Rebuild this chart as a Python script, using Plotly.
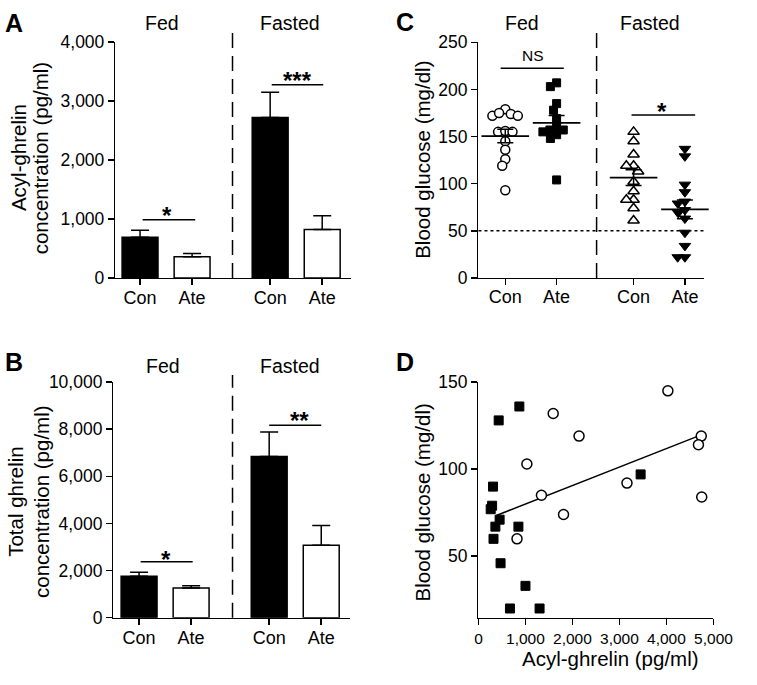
import numpy as np
import plotly.graph_objects as go

# ---------------- data ----------------
groups = ["Con", "Ate", "Con", "Ate"]
conditions = ["Fed", "Fasted"]

acyl_mean = [690, 360, 2720, 820]
acyl_sem = [120, 55, 430, 235]

total_mean = [1760, 1265, 6840, 3080]
total_sem = [165, 95, 1040, 835]

glu_fed_con = [179, 174, 172, 172, 175, 155, 156, 155, 145, 136, 126, 119, 93]
glu_fed_ate = [203, 207, 185, 178, 169, 155, 157, 157, 148, 152, 160, 104]
glu_fast_con = [155, 145, 131, 119, 119, 113, 102, 92, 83, 83, 74, 61]
glu_fast_ate = [129, 137, 99, 91, 79, 81, 69, 63, 72, 48, 34, 22, 22]

d_con_x = [4030, 1590, 2140, 4740, 4680, 1030, 3160, 1340, 4750, 1810, 820]
d_con_y = [145, 132, 119, 119, 114, 103, 92, 85, 84, 74, 60]
d_ate_x = [870, 430, 3450, 310, 290, 260, 450, 360, 850, 320, 470, 1000, 670, 1300]
d_ate_y = [136, 128, 97, 90, 79, 77, 71, 67, 67, 60, 46, 33, 20, 20]
fit_x = [380, 4740]
fit_y = [73.4, 119.7]

acyl_ticks = [0, 1000, 2000, 3000, 4000]
total_ticks = [0, 2000, 4000, 6000, 8000, 10000]
glu_ticks = [0, 50, 100, 150, 200, 250]
d_yticks = [50, 100, 150]
d_xticks = [0, 1000, 2000, 3000, 4000, 5000]

# ---------------- layout helpers ----------------
W, H = 757, 685
FONT = "Liberation Sans, Arial, Helvetica, sans-serif"
XPOS = [0, 1, 2.5, 3.5]


def px(x):
    return x / W


def py(y):
    return 1 - y / H


def beeswarm(vals, d_px, ypx_per_unit, xpx_per_unit):
    vals = np.asarray(vals, dtype=float)
    ys = vals * ypx_per_unit
    order = np.argsort(-vals, kind="stable")
    placed = []
    offs = np.zeros(len(vals))
    for i in order:
        y = ys[i]
        cands = [0.0]
        for (qx, qy) in placed:
            dy = y - qy
            if abs(dy) < d_px:
                dx = np.sqrt(d_px ** 2 - dy ** 2)
                cands += [qx + dx, qx - dx]
        cands = sorted(cands, key=lambda c: (abs(c), c))
        for c in cands:
            if all((c - qx) ** 2 + (y - qy) ** 2 >= d_px ** 2 - 1e-6 for qx, qy in placed):
                offs[i] = c
                placed.append((c, y))
                break
    return offs / xpx_per_unit


def axis(**kw):
    base = dict(showline=True, linecolor="black", linewidth=1.5, ticks="outside",
                ticklen=6, tickwidth=1.5, tickcolor="black", showgrid=False,
                zeroline=False, tickfont=dict(size=17.5, color="black", family=FONT),
                fixedrange=True)
    base.update(kw)
    return base


fig = go.Figure()

# ---------------- Panel A ----------------
bar_colors = ["black", "white", "black", "white"]
fig.add_trace(go.Bar(
    x=XPOS, y=acyl_mean, width=0.69, xaxis="x", yaxis="y",
    marker=dict(color=bar_colors, line=dict(color="black", width=1.5)),
    error_y=dict(type="data", array=acyl_sem, arrayminus=[0] * 4, symmetric=False,
                 color="black", thickness=1.5, width=9),
    showlegend=False))

# ---------------- Panel B ----------------
fig.add_trace(go.Bar(
    x=XPOS, y=total_mean, width=0.69, xaxis="x2", yaxis="y2",
    marker=dict(color=bar_colors, line=dict(color="black", width=1.5)),
    error_y=dict(type="data", array=total_sem, arrayminus=[0] * 4, symmetric=False,
                 color="black", thickness=1.5, width=9),
    showlegend=False))

# ---------------- Panel C ----------------
C_UNIT = 53.0
C_YPX = 243.0 / 250.0
c_sets = [
    (glu_fed_con, XPOS[0], dict(symbol="circle", size=9, color="white",
                                line=dict(color="black", width=1.5))),
    (glu_fed_ate, XPOS[1], dict(symbol="square", size=8, color="black",
                                line=dict(color="black", width=1))),
    (glu_fast_con, XPOS[2], dict(symbol="triangle-up", size=10, color="white",
                                 line=dict(color="black", width=1.5))),
    (glu_fast_ate, XPOS[3], dict(symbol="triangle-down", size=10, color="black",
                                 line=dict(color="black", width=1))),
]
for vals, xc, mk in c_sets:
    offs = beeswarm(vals, 7.5, C_YPX, C_UNIT)
    fig.add_trace(go.Scatter(x=xc + offs, y=vals, mode="markers", marker=mk,
                             xaxis="x3", yaxis="y3", showlegend=False, cliponaxis=False))
for vals, xc, mk in c_sets:
    v = np.asarray(vals, dtype=float)
    m = v.mean()
    sem = v.std(ddof=1) / np.sqrt(len(v))
    fig.add_trace(go.Scatter(
        x=[xc], y=[m], mode="markers", xaxis="x3", yaxis="y3", showlegend=False,
        marker=dict(symbol="line-ew", size=34, line=dict(color="black", width=1.8)),
        error_y=dict(type="data", array=[sem], color="black", thickness=1.5, width=8),
        cliponaxis=False))

# ---------------- Panel D ----------------
fig.add_trace(go.Scatter(x=fit_x, y=fit_y, mode="lines", line=dict(color="black", width=1.5),
                         xaxis="x4", yaxis="y4", showlegend=False))
fig.add_trace(go.Scatter(x=d_ate_x, y=d_ate_y, mode="markers", xaxis="x4", yaxis="y4",
                         marker=dict(symbol="square", size=9, color="black",
                                     line=dict(color="black", width=1)),
                         showlegend=False, cliponaxis=False))
fig.add_trace(go.Scatter(x=d_con_x, y=d_con_y, mode="markers", xaxis="x4", yaxis="y4",
                         marker=dict(symbol="circle", size=10, color="white",
                                     line=dict(color="black", width=1.5)),
                         showlegend=False, cliponaxis=False))

# ---------------- axes ----------------
A_UNIT = 53.75
XT = dict(size=18, color="black", family=FONT)
fig.update_layout(
    xaxis=axis(domain=[px(115), px(358)], anchor="y",
               range=[(115 - 140.5) / A_UNIT, (358 - 140.5) / A_UNIT],
               tickmode="array", tickvals=XPOS, ticktext=groups, tickfont=XT,
               ticklabelstandoff=-3),
    yaxis=axis(domain=[py(276), py(33)], anchor="x", range=[0, 4000],
               tickmode="array", tickvals=acyl_ticks,
               ticktext=[f"{t:,}" for t in acyl_ticks]),
    xaxis2=axis(domain=[px(113), px(357)], anchor="y2",
                range=[(113 - 139.5) / A_UNIT, (357 - 139.5) / A_UNIT],
                tickmode="array", tickvals=XPOS, ticktext=groups, tickfont=XT,
                ticklabelstandoff=-3),
    yaxis2=axis(domain=[py(626), py(383.3)], anchor="x2", range=[0, 10000],
                tickmode="array", tickvals=total_ticks,
                ticktext=[f"{t:,}" for t in total_ticks]),
    xaxis3=axis(domain=[px(490), px(723)], anchor="y3",
                range=[(490 - 517.7) / C_UNIT, (723 - 517.7) / C_UNIT],
                tickmode="array", tickvals=XPOS, ticktext=groups, tickfont=XT,
                ticklabelstandoff=-4),
    yaxis3=axis(domain=[py(276), py(33.3)], anchor="x3", range=[0, 250],
                tickmode="array", tickvals=glu_ticks, ticktext=[str(t) for t in glu_ticks]),
    xaxis4=axis(domain=[px(490), px(732.7)], anchor="y4", range=[0, 5000],
                tickmode="array", tickvals=d_xticks,
                ticktext=[f"{t:,}" for t in d_xticks],
                tickfont=dict(size=15.5, color="black", family=FONT)),
    yaxis4=axis(domain=[py(626), py(383.3)], anchor="x4", range=[14.7, 150],
                tickmode="array", tickvals=d_yticks, ticktext=[str(t) for t in d_yticks]),
)

# ---------------- shapes ----------------
shapes = []
dash = "15px,8px"
shapes.append(dict(type="line", xref="x", yref="paper", x0=(236 - 140.5) / A_UNIT,
                   x1=(236 - 140.5) / A_UNIT, y0=py(276), y1=py(23),
                   line=dict(color="black", width=1.5, dash=dash)))
shapes.append(dict(type="line", xref="x2", yref="paper", x0=(236 - 139.5) / A_UNIT,
                   x1=(236 - 139.5) / A_UNIT, y0=py(626), y1=py(376),
                   line=dict(color="black", width=1.5, dash=dash)))
shapes.append(dict(type="line", xref="x3", yref="paper", x0=(612 - 517.7) / C_UNIT,
                   x1=(612 - 517.7) / C_UNIT, y0=py(276), y1=py(22),
                   line=dict(color="black", width=1.5, dash=dash)))
# dotted hypoglycemia threshold
shapes.append(dict(type="line", xref="paper", yref="y3", x0=px(490), x1=px(723),
                   y0=50, y1=50, line=dict(color="black", width=1.5, dash="dot")))
# significance bars
for xr, yr, x0, x1, yv in [
    ("x", "y", 0.05, 1.06, 988), ("x", "y", 2.53, 3.52, 3276),
    ("x2", "y2", 0.03, 1.03, 2377), ("x2", "y2", 2.5, 3.5, 8171),
    ("x3", "y3", -0.09, 1.14, 222.5), ("x3", "y3", 2.46, 3.70, 173),
]:
    shapes.append(dict(type="line", xref=xr, yref=yr, x0=x0, x1=x1, y0=yv, y1=yv,
                       line=dict(color="black", width=1.5)))
fig.update_layout(shapes=shapes)

# ---------------- annotations ----------------
ann = []


def text(x, y, s, size=18, bold=False, angle=0, xanchor="center", yanchor="middle"):
    ann.append(dict(x=px(x), y=py(y), xref="paper", yref="paper", text=s, showarrow=False,
                    textangle=angle, xanchor=xanchor, yanchor=yanchor,
                    font=dict(family=FONT, size=size, color="black",
                              weight="bold" if bold else "normal")))


# panel letters
text(10, 13, "A", size=25, bold=True)
text(10, 363, "B", size=25, bold=True)
text(414, 12, "C", size=25, bold=True)
text(414, 363, "D", size=25, bold=True)
# condition labels
FS = 19.5
text(163, 13, conditions[0], size=FS)
text(295, 13, conditions[1], size=FS)
text(164, 367, conditions[0], size=FS)
text(295, 367, conditions[1], size=FS)
text(535, 13, conditions[0], size=FS)
text(667, 13, conditions[1], size=FS)
# axis titles
text(15, 152, "Acyl-ghrelin", size=20.5, angle=-90)
text(38, 152, "concentration (pg/ml)", size=20.5, angle=-90)
text(12, 506, "Total ghrelin", size=20.5, angle=-90)
text(38, 506, "concentration (pg/ml)", size=20.5, angle=-90)
text(432, 154, "Blood glucose (mg/dl)", size=20.5, angle=-90)
text(432, 507, "Blood glucose (mg/dl)", size=20.5, angle=-90)
text(626, 668, "Acyl-ghrelin (pg/ml)", size=20.5)
# significance marks
text(168, 212, "*", size=24, bold=True)
text(303, 73, "***", size=24, bold=True)
text(167, 566, "*", size=24, bold=True)
text(305, 423, "**", size=24, bold=True)
text(680, 105, "*", size=24, bold=True)
text(546, 47, "NS", size=15.5)

fig.update_layout(
    annotations=ann,
    width=W, height=H, autosize=False,
    margin=dict(l=0, r=0, t=0, b=0),
    paper_bgcolor="white", plot_bgcolor="white",
    font=dict(family=FONT, color="black"),
    bargap=0,
)

fig.write_html("out.html", config={"displayModeBar": False, "staticPlot": True},
               post_script="document.body.style.margin='0';document.body.style.padding='0';")
